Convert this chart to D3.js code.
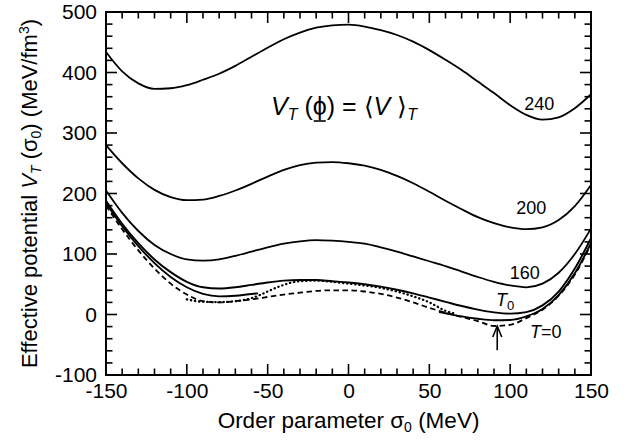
<!DOCTYPE html>
<html>
<head>
<meta charset="utf-8">
<script src="https://cdn.jsdelivr.net/npm/d3@7"></script>
<style>
  html, body { margin: 0; padding: 0; background: #fff; }
  svg { display: block; font-family: "Liberation Sans", Arial, Helvetica, sans-serif; }
</style>
</head>
<body>
<svg id="chart" width="633" height="443"></svg>
<script>
// ---------------- data ----------------
const sigma = [-150,-140,-130,-120,-110,-100,-90,-80,-70,-60,-50,-40,-30,-20,-10,0,10,20,30,40,50,60,70,80,90,100,110,120,130,140,150];
const v240 = [434,402,382,373,374,379,388,398,411,426,441,455,466,474,478,479,476,470,462,451,437,421,404,385,366,346,330,322,326,341,364];
const v200 = [280,250,225,206,194,189,190,196,205,216,228,239,247,251,252,250,246,239,229,217,203,188,174,161,151,144,141,144,156,179,214];
const v160 = [205,168,138,115,100,91,89,91,97,104,111,117,121,123,122,120,117,111,104,96,88,80,71,62,54,48,45,51,69,100,142];
const vT0  = [188,150,118,91,70,54,45,43,45,49,53,56,57,57,55,53,50,46,41,35,28,21,14,8,3.5,1.5,4,15,38,76,126];
const vT00 = [180,141,106,76,51,33,22,20,22,25,29,33,36,39,40,40,38,34,28,20,11,3,-4,-11,-19,-17,-6,8,31,66,116];

// lower solid curve (two visible branches)
const lowLeftX  = [-150,-140,-130,-120,-110,-100,-90,-80,-70,-60,-56];
const lowLeftV  = [184,146,113,85,62,45,34,30,31,34,35];
const lowRightX = [56,60,70,80,90,100,110,120,130,140,150];
const lowRightV = [4,2,-3,-7,-9.5,-9,-3,9,32,68,118];

// dotted curve
const dotX = [-100,-90,-80,-70,-60,-55,-50,-45,-40,-35,-30,-20,-10,0,10,20,30,40,50,55,60,65];
const dotV = [25,21,20.5,22,27,32,38,44,49,53,55,56,54,51,48,44,38,30,20,13,6,2];

const xTicks = [-150,-100,-50,0,50,100,150];
const yTicks = [-100,0,100,200,300,400,500];
const xMinor = [-150,-140,-130,-120,-110,-100,-90,-80,-70,-60,-50,-40,-30,-20,-10,0,10,20,30,40,50,60,70,80,90,100,110,120,130,140,150];
const yMinor = [-100,-80,-60,-40,-20,0,20,40,60,80,100,120,140,160,180,200,220,240,260,280,300,320,340,360,380,400,420,440,460,480,500];
const curveLabels = [
  {text: "240", x: 118, y: 349},
  {text: "200", x: 113, y: 176},
  {text: "160", x: 109, y: 69}
];
const arrowX = 92, arrowFrom = -59, arrowTo = -19;

// ---------------- layout ----------------
const svg = d3.select("#chart");
const L = 106, R = 591, T = 12, B = 375;
const x = d3.scaleLinear().domain([-150,150]).range([L,R]);
const y = d3.scaleLinear().domain([-100,500]).range([B,T]);
const fmt = d => String(d);

const g = svg.append("g");

// frame
g.append("rect").attr("x",L).attr("y",T).attr("width",R-L).attr("height",B-T)
  .attr("fill","none").attr("stroke","#000").attr("stroke-width",2);

// inner tick marks on all four sides
const tk = g.append("g").attr("stroke","#000").attr("stroke-width",1.6);
const lenX = v => xTicks.indexOf(v) >= 0 ? 11 : 6.5;
const lenY = v => yTicks.indexOf(v) >= 0 ? 11 : 6.5;
tk.selectAll("line.xb").data(xMinor).join("line").attr("class","xb")
  .attr("x1",d=>x(d)).attr("x2",d=>x(d)).attr("y1",B).attr("y2",d=>B-lenX(d));
tk.selectAll("line.xt").data(xMinor).join("line").attr("class","xt")
  .attr("x1",d=>x(d)).attr("x2",d=>x(d)).attr("y1",T).attr("y2",d=>T+lenX(d));
tk.selectAll("line.yl").data(yMinor).join("line").attr("class","yl")
  .attr("y1",d=>y(d)).attr("y2",d=>y(d)).attr("x1",L).attr("x2",d=>L+lenY(d));
tk.selectAll("line.yr").data(yMinor).join("line").attr("class","yr")
  .attr("y1",d=>y(d)).attr("y2",d=>y(d)).attr("x1",R).attr("x2",d=>R-lenY(d));

// tick labels via axes
const xa = g.append("g").attr("transform",`translate(0,${B})`)
  .call(d3.axisBottom(x).tickValues(xTicks).tickSize(0).tickPadding(8).tickFormat(fmt));
xa.select(".domain").remove();
xa.selectAll("text").attr("font-size",21).attr("fill","#000").attr("font-family","Liberation Sans, Arial, sans-serif");
const ya = g.append("g").attr("transform",`translate(${L},0)`)
  .call(d3.axisLeft(y).tickValues(yTicks).tickSize(0).tickPadding(9).tickFormat(fmt));
ya.select(".domain").remove();
ya.selectAll("text").attr("font-size",21).attr("fill","#000").attr("font-family","Liberation Sans, Arial, sans-serif");

// curves
const line = d3.line().x(d=>x(d[0])).y(d=>y(d[1])).curve(d3.curveMonotoneX);
const zip = (xs, vs) => xs.map((v,i)=>[v, vs[i]]);
const plot = g.append("g").attr("fill","none").attr("stroke","#000");
plot.append("path").attr("d", line(zip(sigma,v240))).attr("stroke-width",1.8);
plot.append("path").attr("d", line(zip(sigma,v200))).attr("stroke-width",1.8);
plot.append("path").attr("d", line(zip(sigma,v160))).attr("stroke-width",1.8);
plot.append("path").attr("d", line(zip(sigma,vT0))).attr("stroke-width",1.9);
plot.append("path").attr("d", line(zip(lowLeftX,lowLeftV))).attr("stroke-width",1.9);
plot.append("path").attr("d", line(zip(lowRightX,lowRightV))).attr("stroke-width",1.9);
plot.append("path").attr("d", line(zip(dotX,dotV))).attr("stroke-width",2.3).attr("stroke-dasharray","0.3,3.8").attr("stroke-linecap","round");
plot.append("path").attr("d", line(zip(sigma,vT00))).attr("stroke-width",1.8).attr("stroke-dasharray","5.5,3.5");

// arrow
const ax = x(arrowX);
plot.append("line").attr("x1",ax).attr("x2",ax).attr("y1",y(arrowFrom)).attr("y2",y(arrowTo)).attr("stroke-width",1.6);
plot.append("path").attr("d",`M${ax-4.5},${y(arrowTo)+11} L${ax},${y(arrowTo)} L${ax+4.5},${y(arrowTo)+11}`).attr("stroke-width",1.6);

// curve labels
const lab = g.append("g").attr("font-size",18).attr("fill","#000").attr("text-anchor","middle");
curveLabels.forEach(c => lab.append("text").attr("x",x(c.x)).attr("y",y(c.y)).attr("dy","0.35em").text(c.text));
const t0 = lab.append("text").attr("x",496).attr("y",306).attr("text-anchor","start");
t0.append("tspan").attr("font-style","italic").text("T");
t0.append("tspan").attr("font-size",13).attr("dy",4).text("0");
const tz = lab.append("text").attr("x",530).attr("y",338).attr("text-anchor","start");
tz.append("tspan").attr("font-style","italic").text("T");
tz.append("tspan").text("=0");

// formula
const f = g.append("text").attr("x",271).attr("y",115).attr("font-size",25).attr("fill","#000");
f.append("tspan").attr("font-style","italic").text("V");
f.append("tspan").attr("font-style","italic").attr("font-size",16).attr("dy",5).text("T");
f.append("tspan").attr("dy",-5).text(" (");
f.append("tspan").text("\u03D5");
f.append("tspan").text(") = \u27E8");
f.append("tspan").attr("font-style","italic").text("V");
f.append("tspan").text(" \u27E9");
f.append("tspan").attr("font-style","italic").attr("font-size",16).attr("dy",5).text("T");
// underline under phi
try {
  const txt = f.node().textContent;
  const idx = txt.indexOf("\u03D5");
  const ext = f.node().getExtentOfChar(idx);
  g.append("line").attr("x1",ext.x+1).attr("x2",ext.x+ext.width-1)
    .attr("y1",121).attr("y2",121).attr("stroke","#000").attr("stroke-width",1.6);
} catch(e) {}

// axis titles
const xt = g.append("text").attr("x",(L+R)/2).attr("y",428).attr("text-anchor","middle").attr("font-size",22.5).attr("fill","#000");
xt.append("tspan").text("Order parameter σ");
xt.append("tspan").attr("font-size",14).attr("dy",4).text("0");
xt.append("tspan").attr("dy",-4).text(" (MeV)");

const yt = g.append("text").attr("transform",`translate(37,${(T+B)/2}) rotate(-90)`).attr("text-anchor","middle").attr("font-size",22).attr("fill","#000");
yt.append("tspan").text("Effective potential  ");
yt.append("tspan").attr("font-style","italic").text("V");
yt.append("tspan").attr("font-style","italic").attr("font-size",14).attr("dy",4).text("T");
yt.append("tspan").attr("dy",-4).text(" (σ");
yt.append("tspan").attr("font-size",14).attr("dy",4).text("0");
yt.append("tspan").attr("dy",-4).text(") (MeV/fm");
yt.append("tspan").attr("font-size",14).attr("dy",-8).text("3");
yt.append("tspan").attr("dy",8).text(")");
</script>
</body>
</html>
